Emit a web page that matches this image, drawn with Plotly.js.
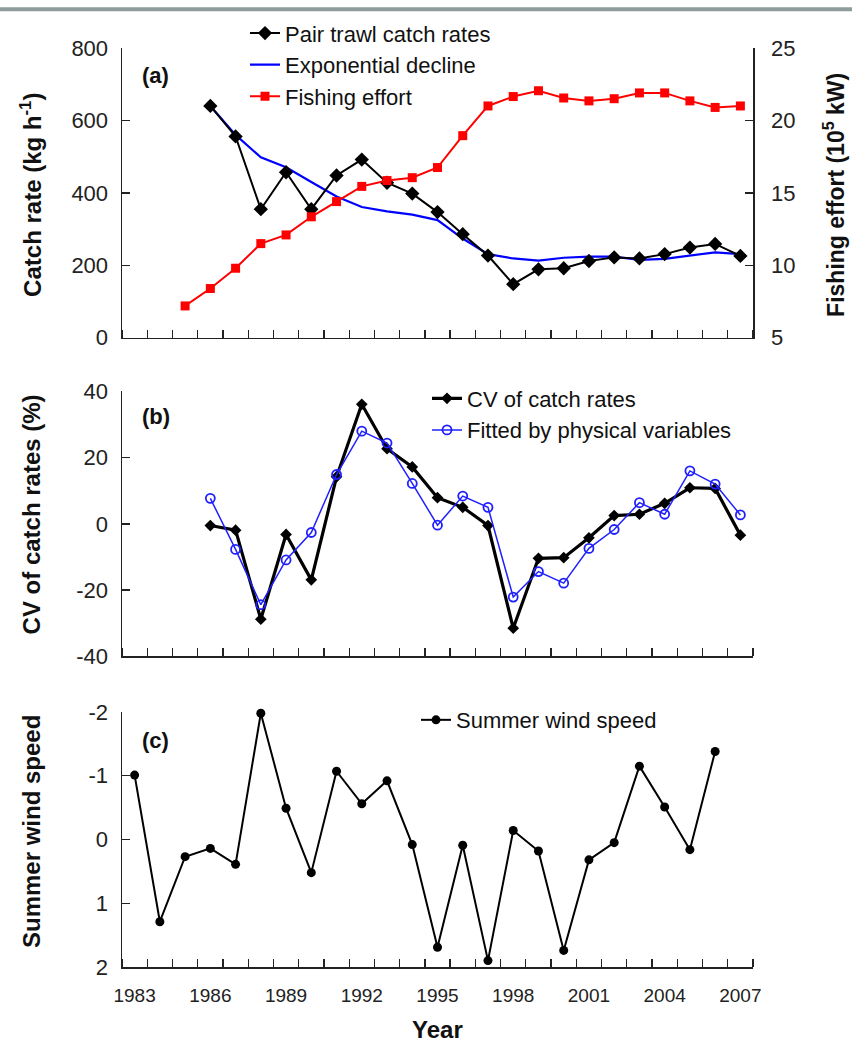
<!DOCTYPE html>
<html>
<head>
<meta charset="utf-8">
<script src="https://cdn.plot.ly/plotly-3.0.1.min.js"></script>
<style>
  html, body { margin: 0; padding: 0; background: #ffffff; }
  #chart { width: 852px; height: 1048px; }
</style>
</head>
<body>
<div id="chart"></div>
<script>
// ---- Panel (a): catch rates, fitted exponential decline, fishing effort ----
const yearsCatch = [1986,1987,1988,1989,1990,1991,1992,1993,1994,1995,1996,1997,1998,1999,2000,2001,2002,2003,2004,2005,2006,2007];
const catchRate = [640,556,355,457,355,448,492,428,398,347,286,227,148,189,192,212,222,219,231,249,259,226];
const expDecline = [640,560,498,471,430,390,361,349,340,325,274,231,219,213,221,224,224,215,218,227,236,231];

const yearsEffort = [1985,1986,1987,1988,1989,1990,1991,1992,1993,1994,1995,1996,1997,1998,1999,2000,2001,2002,2003,2004,2005,2006,2007];
const fishingEffort = [7.2,8.4,9.8,11.5,12.1,13.35,14.4,15.45,15.85,16.05,16.75,18.95,21.0,21.65,22.05,21.55,21.35,21.5,21.9,21.9,21.35,20.9,21.0];

// ---- Panel (b): CV of catch rates and the fit from physical variables ----
const yearsCV = yearsCatch;
const cvCatch = [-0.5,-1.9,-28.8,-3.2,-16.9,14.2,36.1,22.7,17.2,7.9,5.0,-0.5,-31.5,-10.4,-10.2,-4.2,2.5,2.9,6.2,10.9,10.7,-3.4];
const cvFitted = [7.7,-7.7,-24.4,-10.9,-2.6,14.9,28.0,24.4,12.2,-0.4,8.4,5.0,-22.1,-14.4,-17.9,-7.4,-1.7,6.4,2.9,16.0,12.0,2.7];

// ---- Panel (c): summer wind speed anomaly ----
const yearsWind = [1983,1984,1985,1986,1987,1988,1989,1990,1991,1992,1993,1994,1995,1996,1997,1998,1999,2000,2001,2002,2003,2004,2005,2006];
const windSpeed = [-1.01,1.29,0.27,0.14,0.39,-1.98,-0.49,0.52,-1.07,-0.56,-0.92,0.08,1.69,0.09,1.90,-0.14,0.18,1.74,0.32,0.05,-1.15,-0.51,0.16,-1.38];

// Tick values and labels (plain hyphen for negatives)
const yearTicks = [1983,1986,1989,1992,1995,1998,2001,2004,2007];
const catchTicks = [0,200,400,600,800];
const effortTicks = [5,10,15,20,25];
const cvTicks = [-40,-20,0,20,40];
const windTicks = [-2,-1,0,1,2];

const FONT = 'Liberation Sans, Arial, sans-serif';
const AXIS_COLOR = '#222222';

// Plot area in pixels: left 122, right 753, top 41, bottom 967
const W = 852, H = 1048, L = 122, R = 99, T = 41, B = 81;
const plotH = H - T - B;
const py = v => (H - B - v) / plotH;          // pixel row -> paper y
const px = v => (v - L) / (W - L - R);        // pixel column -> paper x

function xAxis(showLabels) {
  return {
    range: [1982.5, 2007.5],
    tickmode: 'array',
    tickvals: yearTicks,
    ticktext: yearTicks.map(String),
    ticks: '',
    showticklabels: showLabels,
    ticklabelstandoff: 11,
    tickfont: { family: FONT, size: 19, color: AXIS_COLOR },
    minor: { ticks: 'inside', tickmode: 'linear', tick0: 1982.5, dtick: 1, ticklen: 8, tickwidth: 1.3, tickcolor: AXIS_COLOR },
    showline: true, linecolor: AXIS_COLOR, linewidth: 1.5,
    showgrid: false, zeroline: false, fixedrange: true
  };
}

function yAxis(vals, opts) {
  return Object.assign({
    tickmode: 'array', tickvals: vals, ticktext: vals.map(String),
    ticks: 'inside', ticklen: 8, tickwidth: 1.3, tickcolor: AXIS_COLOR,
    tickfont: { family: FONT, size: 22, color: AXIS_COLOR },
    ticklabelstandoff: 8,
    showline: true, linecolor: AXIS_COLOR, linewidth: 1.5,
    showgrid: false, zeroline: false, fixedrange: true
  }, opts);
}

const traces = [
  // (a)
  { x: yearsEffort, y: fishingEffort, name: 'Fishing effort', type: 'scatter', mode: 'lines+markers',
    xaxis: 'x', yaxis: 'y2', legend: 'legend', legendrank: 3, cliponaxis: false,
    line: { color: '#ff0000', width: 2 }, marker: { symbol: 'square', size: 9, color: '#ff0000' } },
  { x: yearsCatch, y: expDecline, name: 'Exponential decline', type: 'scatter', mode: 'lines',
    xaxis: 'x', yaxis: 'y', legend: 'legend', legendrank: 2, cliponaxis: false,
    line: { color: '#0000ff', width: 2.2 } },
  { x: yearsCatch, y: catchRate, name: 'Pair trawl catch rates', type: 'scatter', mode: 'lines+markers',
    xaxis: 'x', yaxis: 'y', legend: 'legend', legendrank: 1, cliponaxis: false,
    line: { color: '#000000', width: 2 }, marker: { symbol: 'diamond', size: 11, color: '#000000' } },
  // (b)
  { x: yearsCV, y: cvCatch, name: 'CV of catch rates', type: 'scatter', mode: 'lines+markers',
    xaxis: 'x2', yaxis: 'y3', legend: 'legend2', cliponaxis: false,
    line: { color: '#000000', width: 3.2 }, marker: { symbol: 'diamond', size: 9, color: '#000000' } },
  { x: yearsCV, y: cvFitted, name: 'Fitted by physical variables', type: 'scatter', mode: 'lines+markers',
    xaxis: 'x2', yaxis: 'y3', legend: 'legend2', cliponaxis: false,
    line: { color: '#2020ff', width: 1.5 },
    marker: { symbol: 'circle-open', size: 9, color: '#2020ff', line: { width: 1.8, color: '#2020ff' } } },
  // (c)
  { x: yearsWind, y: windSpeed, name: 'Summer wind speed', type: 'scatter', mode: 'lines+markers',
    xaxis: 'x3', yaxis: 'y4', legend: 'legend3', cliponaxis: false,
    line: { color: '#000000', width: 2 }, marker: { symbol: 'circle', size: 9, color: '#000000' } }
];

const legendBase = {
  bgcolor: 'rgba(0,0,0,0)', borderwidth: 0,
  font: { family: FONT, size: 22, color: '#111111' },
  xanchor: 'left', yanchor: 'top', traceorder: 'normal', tracegroupgap: 0
};

const axisTitle = (text, x, y, angle, size) => ({
  text, x, y, xref: 'paper', yref: 'paper', showarrow: false, textangle: angle,
  xanchor: 'center', yanchor: 'middle',
  font: { family: FONT, size: size || 24, color: '#111111', weight: 'bold' }
});

const panelLabel = (text, y) => ({
  text, x: px(140), y, xref: 'paper', yref: 'paper', showarrow: false,
  xanchor: 'left', yanchor: 'middle',
  font: { family: FONT, size: 22, color: '#111111', weight: 'bold' }
});

const layout = {
  width: W, height: H,
  margin: { l: L, r: R, t: T, b: B },
  paper_bgcolor: '#ffffff', plot_bgcolor: 'rgba(0,0,0,0)',
  font: { family: FONT, color: '#111111' },
  showlegend: true,
  xaxis: Object.assign(xAxis(false), { anchor: 'y', domain: [0, 1] }),
  xaxis2: Object.assign(xAxis(false), { anchor: 'y3', domain: [0, 1] }),
  xaxis3: Object.assign(xAxis(true), { anchor: 'y4', domain: [0, 1] }),
  yaxis: yAxis(catchTicks, { domain: [py(333), 1], range: [0, 800], anchor: 'x' }),
  yaxis2: yAxis(effortTicks, { domain: [py(333), 1], range: [5, 25], anchor: 'x',
                  overlaying: 'y', side: 'right', ticklabelstandoff: 12 }),
  yaxis3: yAxis(cvTicks, { domain: [py(654), py(387)], range: [-40, 40], anchor: 'x2' }),
  yaxis4: yAxis(windTicks, { domain: [0, py(710)], range: [2, -2], anchor: 'x3' }),
  legend: Object.assign({}, legendBase, { x: px(245), y: py(5) }),
  legend2: Object.assign({}, legendBase, { x: px(427), y: py(373) }),
  legend3: Object.assign({}, legendBase, { x: px(416), y: py(697) }),
  annotations: [
    axisTitle('Catch rate (kg h<sup>-1</sup>)', px(31), py(189), -90),
    axisTitle('Fishing effort (10<sup>5</sup> kW)', px(834), py(189), -90, 23),
    axisTitle('CV of catch rates (%)', px(31), py(511), -90),
    axisTitle('Summer wind speed', px(31), py(831), -90),
    axisTitle('Year', px(437), py(1030), 0),
    panelLabel('(a)', py(69)),
    panelLabel('(b)', py(412)),
    panelLabel('(c)', py(739))
  ],
  shapes: [
    // thin grey strip along the top edge of the page
    { type: 'rect', xref: 'paper', yref: 'paper', x0: px(0), x1: px(W), y0: py(4), y1: py(0),
      fillcolor: '#8e9c9c', line: { width: 0 }, layer: 'above' }
  ]
};

Plotly.newPlot('chart', traces, layout, { displayModeBar: false, staticPlot: true });
</script>
</body>
</html>
